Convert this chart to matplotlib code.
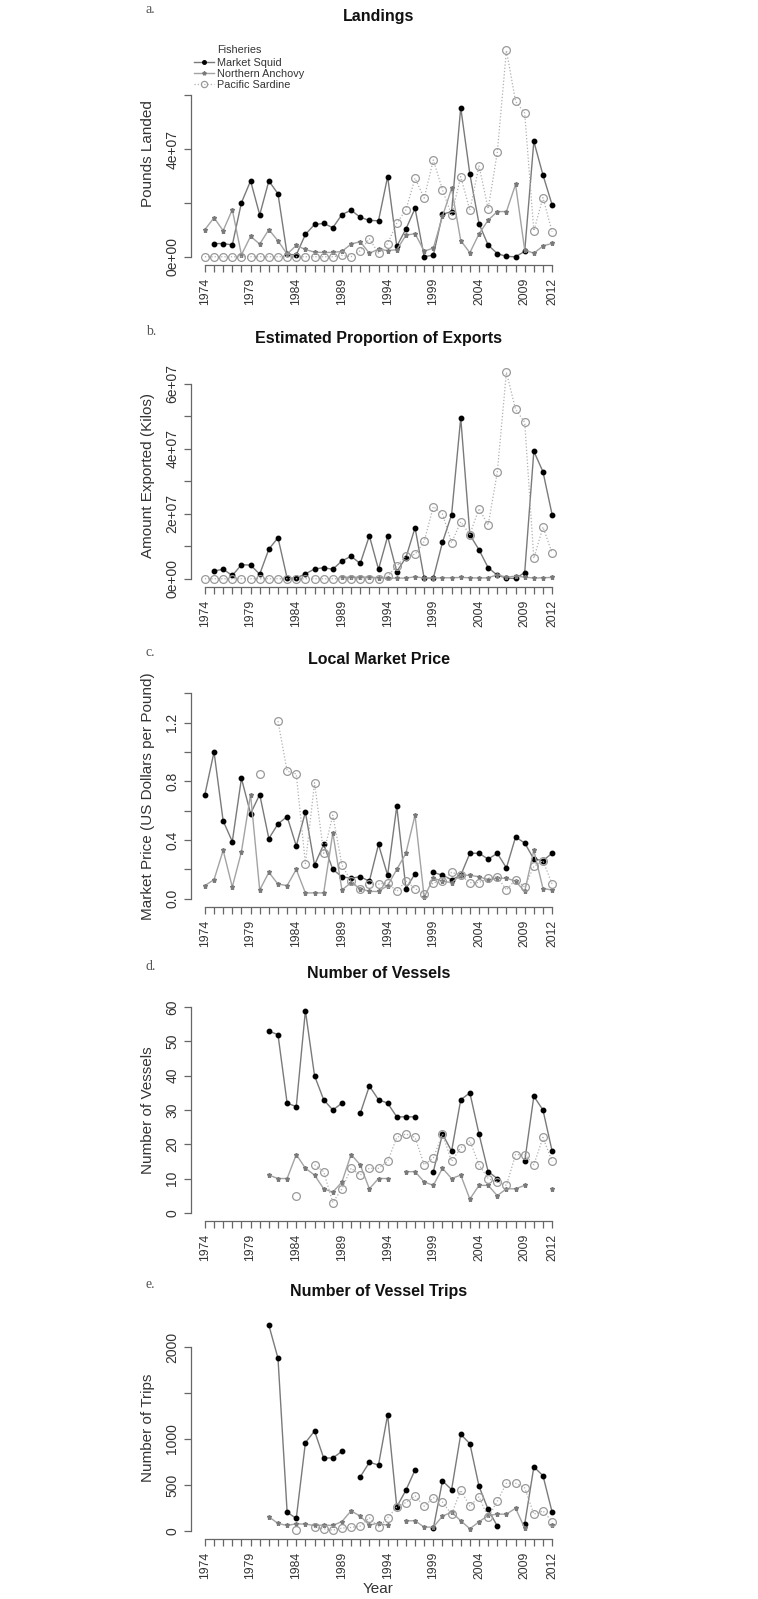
"""
California wetfish fisheries 1974-2012:
landings, exports, local price, vessels and trips for squid, anchovy, sardine.
"""

import matplotlib
matplotlib.use("Agg")
import matplotlib.pyplot as plt
import numpy as np

nan = np.nan
plt.rcParams["font.family"] = ["Liberation Sans", "DejaVu Sans"]

years = list(range(1974, 2013))
year_labels = [1974, 1979, 1984, 1989, 1994, 1999, 2004, 2009, 2012]

# a. Landings (pounds, in units of 1e7)
squid_landings = [nan, 0.49, 0.49, 0.44, 2.01, 2.82, 1.56, 2.82, 2.34, 0.09,
                  0.07, 0.83, 1.20, 1.24, 1.08, 1.57, 1.73, 1.47, 1.35, 1.34,
                  2.98, 0.39, 1.03, 1.80, 0.00, 0.06, 1.58, 1.68, 5.55, 3.07,
                  1.23, 0.43, 0.12, 0.01, 0.00, 0.20, 4.29, 3.04, 1.93]
anchovy_landings = [1.01, 1.45, 0.97, 1.75, 0.07, 0.76, 0.47, 1.01, 0.59, 0.10,
                    0.42, 0.27, 0.17, 0.16, 0.16, 0.20, 0.47, 0.56, 0.13, 0.28,
                    0.23, 0.26, 0.80, 0.86, 0.21, 0.32, 1.50, 2.54, 0.60, 0.15,
                    0.85, 1.36, 1.68, 1.68, 2.69, 0.25, 0.13, 0.40, 0.50]
sardine_landings = [0.00, 0.00, 0.00, 0.00, 0.00, 0.00, 0.00, 0.00, 0.00, 0.00,
                    0.00, 0.00, 0.00, 0.00, 0.00, 0.05, 0.00, 0.22, 0.67, 0.13,
                    0.49, 1.25, 1.74, 2.92, 2.18, 3.60, 2.49, 1.55, 2.98, 1.73,
                    3.39, 1.78, 3.88, 7.68, 5.78, 5.34, 0.96, 2.20, 0.93]

# b. Exports (kilos, in units of 1e7)
squid_exports = [nan, 0.24, 0.29, 0.10, 0.43, 0.42, 0.14, 0.91, 1.26, 0.02,
                 0.02, 0.15, 0.30, 0.34, 0.29, 0.55, 0.69, 0.47, 1.32, 0.29,
                 1.30, 0.22, 0.65, 1.57, 0.01, 0.02, 1.12, 1.97, 4.95, 1.35,
                 0.89, 0.34, 0.11, 0.02, 0.01, 0.19, 3.92, 3.29, 1.97]
anchovy_exports = [nan, nan, nan, nan, nan, nan, nan, nan, nan, nan,
                   nan, nan, nan, nan, nan, 0.05, 0.04, 0.05, 0.05, 0.03,
                   0.02, 0.02, 0.02, 0.06, 0.02, 0.02, 0.03, 0.03, 0.04, 0.03,
                   0.02, 0.03, 0.12, 0.05, 0.08, 0.05, 0.02, 0.03, 0.04]
sardine_exports = [0.00, 0.00, 0.00, 0.00, 0.00, 0.00, 0.00, 0.00, 0.00, 0.00,
                   0.00, 0.00, 0.00, 0.00, 0.00, 0.00, 0.00, 0.00, 0.00, 0.00,
                   0.08, 0.39, 0.70, 0.75, 1.15, 2.22, 1.99, 1.11, 1.75, 1.36,
                   2.16, 1.65, 3.27, 6.35, 5.21, 4.81, 0.63, 1.59, 0.79]

# c. Local market price (US $ per pound)
squid_price = [0.71, 1.00, 0.53, 0.39, 0.82, 0.58, 0.71, 0.41, 0.51, 0.56,
               0.36, 0.59, 0.23, 0.37, 0.20, 0.15, 0.14, 0.15, 0.12, 0.37,
               0.16, 0.63, 0.07, 0.17, nan, 0.18, 0.16, 0.13, 0.16, 0.31,
               0.31, 0.27, 0.31, 0.21, 0.42, 0.38, 0.27, 0.26, 0.31]
anchovy_price = [0.09, 0.13, 0.33, 0.08, 0.32, 0.71, 0.06, 0.18, 0.10, 0.09,
                 0.20, 0.04, 0.04, 0.04, 0.45, 0.06, 0.11, 0.07, 0.05, 0.05,
                 0.09, 0.20, 0.31, 0.57, 0.01, 0.14, 0.12, 0.11, 0.16, 0.16,
                 0.15, 0.13, 0.14, 0.14, 0.12, 0.05, 0.33, 0.07, 0.06]
sardine_price = [nan, nan, nan, nan, nan, nan, 0.85, nan, 1.21, 0.87,
                 0.85, 0.24, 0.79, 0.31, 0.57, 0.23, 0.12, 0.07, 0.10, 0.10,
                 0.11, 0.05, 0.12, 0.07, 0.03, 0.11, 0.12, 0.18, 0.16, 0.11,
                 0.11, 0.14, 0.15, 0.06, 0.13, 0.08, 0.22, 0.26, 0.10]

# d. Number of vessels
squid_vessels = [nan, nan, nan, nan, nan, nan, nan, 53, 52, 32,
                 31, 59, 40, 33, 30, 32, nan, 29, 37, 33,
                 32, 28, 28, 28, nan, 12, 23, 18, 33, 35,
                 23, 12, 10, nan, nan, 15, 34, 30, 18]
anchovy_vessels = [nan, nan, nan, nan, nan, nan, nan, 11, 10, 10,
                   17, 13, 11, 7, 6, 9, 17, 14, 7, 10,
                   10, nan, 12, 12, 9, 8, 13, 10, 11, 4,
                   8, 8, 5, 7, 7, 8, nan, nan, 7]
sardine_vessels = [nan, nan, nan, nan, nan, nan, nan, nan, nan, nan,
                   5, nan, 14, 12, 3, 7, 13, 11, 13, 13,
                   15, 22, 23, 22, 14, 16, 23, 15, 19, 21,
                   14, 10, 9, 8, 17, 17, 14, 22, 15]

# e. Number of vessel trips
squid_trips = [nan, nan, nan, nan, nan, nan, nan, 2240, 1880, 203,
               134, 960, 1087, 793, 793, 866, nan, 587, 746, 717,
               1264, 261, 442, 663, nan, 25, 543, 449, 1051, 949,
               485, 232, 51, nan, nan, 72, 696, 601, 203]
anchovy_trips = [nan, nan, nan, nan, nan, nan, nan, 152, 80, 58,
                 76, 72, 58, 62, 58, 101, 217, 159, 62, 83,
                 58, nan, 109, 109, 40, 40, 159, 203, 109, 22,
                 98, 167, 181, 181, 246, 29, nan, nan, 58]
sardine_trips = [nan, nan, nan, nan, nan, nan, nan, nan, nan, nan,
                 7, nan, 36, 22, 7, 29, 36, 51, 141, 40,
                 141, 261, 308, 380, 268, 359, 312, 181, 442, 268,
                 370, 145, 322, 518, 518, 467, 181, 217, 101]

panels = [
    dict(tag="a.", title="Landings", ylabel="Pounds Landed",
         data=(np.array(squid_landings) * 1e7, np.array(anchovy_landings) * 1e7,
               np.array(sardine_landings) * 1e7),
         top=None, ticks=[0, 2e7, 4e7, 6e7], labels=["0e+00", "", "4e+07", ""]),
    dict(tag="b.", title="Estimated Proportion of Exports", ylabel="Amount Exported (Kilos)",
         data=(np.array(squid_exports) * 1e7, np.array(anchovy_exports) * 1e7,
               np.array(sardine_exports) * 1e7),
         top=None, ticks=[0, 1e7, 2e7, 3e7, 4e7, 5e7, 6e7],
         labels=["0e+00", "", "2e+07", "", "4e+07", "", "6e+07"]),
    dict(tag="c.", title="Local Market Price", ylabel="Market Price (US Dollars per Pound)",
         data=(squid_price, anchovy_price, sardine_price),
         top=1.4, ticks=[0, 0.2, 0.4, 0.6, 0.8, 1.0, 1.2, 1.4],
         labels=["0.0", "", "0.4", "", "0.8", "", "1.2", ""]),
    dict(tag="d.", title="Number of Vessels", ylabel="Number of Vessels",
         data=(squid_vessels, anchovy_vessels, sardine_vessels),
         top=60, ticks=[0, 10, 20, 30, 40, 50, 60],
         labels=["0", "10", "20", "30", "40", "50", "60"]),
    dict(tag="e.", title="Number of Vessel Trips", ylabel="Number of Trips",
         data=(squid_trips, anchovy_trips, sardine_trips),
         top=None, ticks=[0, 500, 1000, 1500, 2000],
         labels=["0", "500", "1000", "", "2000"]),
]

W, H = 758, 1599
fig = plt.figure(figsize=(W / 100, H / 100), dpi=100)

# plot regions in pixels (top, bottom)
boxes = [(42, 265), (364, 587), (685, 907), (999, 1221), (1317, 1539)]
left_px, right_px = 191, 566

axis_col = "#666666"
text_col = "#333333"

for p, (t, b) in zip(panels, boxes):
    ax = fig.add_axes([left_px / W, 1 - b / H, (right_px - left_px) / W, (b - t) / H])
    squid, anchovy, sardine = [np.asarray(d, dtype=float) for d in p["data"]]

    l1, = ax.plot(years, squid, color="#7a7a7a", lw=1.0, marker="o", ms=3.2,
                  mfc="black", mec="black", label="Market Squid")
    l2, = ax.plot(years, anchovy, color="#a3a3a3", lw=1.0, marker="*", ms=3.6,
                  mfc="#7a7a7a", mec="#7a7a7a", label="Northern Anchovy")
    l3, = ax.plot(years, sardine, color="#b0b0b0", lw=0.9, ls=(0, (1, 1.6)),
                  marker="o", ms=5.6, mfc="none", mec="#999999", mew=0.9,
                  label="Pacific Sardine")

    hi = p["top"] if p["top"] is not None else np.nanmax([squid, anchovy, sardine])
    ax.set_ylim(-0.04 * hi, 1.04 * hi)
    ax.set_xlim(1974 - 0.04 * 38, 2012 + 0.04 * 38)

    for s in ["top", "right"]:
        ax.spines[s].set_visible(False)
    ax.spines["left"].set_bounds(p["ticks"][0], p["ticks"][-1])
    ax.spines["bottom"].set_bounds(1974, 2012)
    for s in ["left", "bottom"]:
        ax.spines[s].set_color(axis_col)
        ax.spines[s].set_linewidth(0.9)

    ax.set_yticks(p["ticks"])
    ax.set_yticklabels(p["labels"])
    ax.set_xticks(years)
    ax.set_xticklabels([str(y) if y in year_labels else "" for y in years])
    ax.tick_params(axis="both", color=axis_col, length=5, width=0.9,
                   labelcolor=text_col)
    ax.tick_params(axis="x", labelrotation=90, pad=4, labelsize=8.8)
    ax.tick_params(axis="y", labelrotation=90, pad=3.5, labelsize=10)
    for lab in ax.get_yticklabels():
        lab.set_va("center")

    cx = (left_px + right_px) / 2 / W
    fig.text(cx, 1 - (t - 21) / H, p["title"], ha="center", va="baseline",
             fontsize=11.5, fontweight="bold", color="#111111")
    fig.text(146 / W, 1 - (t - 29) / H, p["tag"], ha="left", va="baseline",
             fontsize=10, family="Liberation Serif", color="#555555")
    fig.text(148 / W, 1 - (t + b) / 2 / H, p["ylabel"], rotation=90,
             ha="center", va="center", fontsize=11, color=text_col)

    if p["tag"] == "a.":
        leg = ax.legend(handles=[l1, l2, l3], loc="upper left",
                        bbox_to_anchor=(194 / W, 1 - 58 / H),
                        bbox_transform=fig.transFigure, frameon=False,
                        fontsize=7.8, labelcolor=text_col, handlelength=1.8,
                        handletextpad=0.35, labelspacing=0.08, borderpad=0,
                        borderaxespad=0, markerscale=0.8)
        fig.text(217 / W, 1 - 53 / H, "Fisheries", ha="left", va="baseline",
                 fontsize=7.8, color=text_col)

fig.text((left_px + right_px) / 2 / W, 1 - 1589 / H, "Year", ha="center",
         va="center", fontsize=11, color=text_col)

fig.savefig("out.png", dpi=100)
